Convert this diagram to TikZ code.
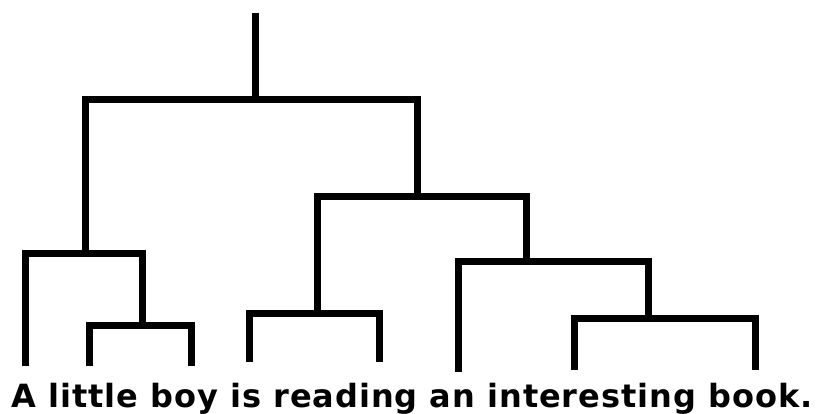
\documentclass[tikz,border=0pt]{standalone}
\usepackage{fontspec}
\newfontfamily\sentfont[LetterSpace=3]{DejaVu Sans}
\usepackage{tikz}
\usetikzlibrary{positioning}

\begin{document}
\begin{tikzpicture}[
        x=1pt, y=-1pt,
        branch/.style={line width=7pt, line join=miter, line cap=butt},
        sentence/.style={font=\sentfont\bfseries\fontsize{32}{36}\selectfont, inner sep=0pt, anchor=base},
    ]
    \useasboundingbox (0,0) rectangle (819,414);
    % branch points
    \coordinate (top) at (255,13);
    \coordinate (s) at (255,100);
    \coordinate (np1) at (85,253);
    \coordinate (vp) at (417,197);
    \coordinate (np2) at (142,325);
    \coordinate (vp2) at (317,313);
    \coordinate (vp3) at (526,261);
    \coordinate (np3) at (648,318);
    % leaves
    \coordinate (wA) at (25,366);
    \coordinate (wlittle) at (89,366);
    \coordinate (wboy) at (191,366);
    \coordinate (wis) at (249,362);
    \coordinate (wreading) at (379,362);
    \coordinate (wan) at (458,372);
    \coordinate (winteresting) at (574,370);
    \coordinate (wbook) at (755,370);
    % tree
    \draw[branch] (top) -- (s);
    \draw[branch] (np1) |- (s) -| (vp);
    \draw[branch] (wA) |- (np1) -| (np2);
    \draw[branch] (wlittle) |- (np2) -| (wboy);
    \draw[branch] (vp2) |- (vp) -| (vp3);
    \draw[branch] (wis) |- (vp2) -| (wreading);
    \draw[branch] (wan) |- (vp3) -| (np3);
    \draw[branch] (winteresting) |- (np3) -| (wbook);
    \node[sentence] (words) at (412,407) {A little boy is reading an interesting book.};
\end{tikzpicture}
\end{document}
